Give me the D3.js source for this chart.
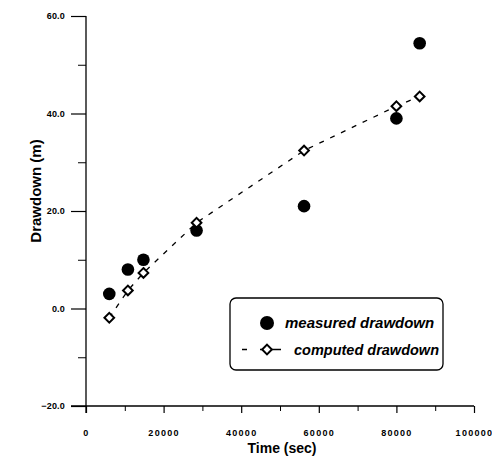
<!DOCTYPE html>
<html>
<head>
<meta charset="utf-8">
<script src="https://cdn.jsdelivr.net/npm/d3@7"></script>
<style>
  body { margin: 0; background: #fff; }
  svg text { font-family: "Liberation Sans", Arial, sans-serif; font-weight: bold; fill: #000; }
</style>
</head>
<body>
<div id="chart"></div>
<script>
// measured drawdown (filled circles)
let measuredTime = [6000, 10800, 14800, 28500, 56200, 80000, 86000];
let measuredDraw = [3.0, 8.0, 10.0, 16.0, 21.0, 39.0, 54.4];
// computed drawdown (open diamonds, dashed line)
let computedTime = [6000, 10800, 14800, 28500, 56200, 80000, 86000];
let computedDraw = [-1.9, 3.7, 7.3, 17.6, 32.4, 41.5, 43.5];

let xTicks = [0, 20000, 40000, 60000, 80000, 100000];
let yTicks = [-20, 0, 20, 40, 60];

var svgwidth = 492, svgheight = 457;
var svg = d3.select("#chart").append("svg")
  .attr("width", svgwidth)
  .attr("height", svgheight);

var margin = {top: 16, left: 86, right: 18, bottom: 51};
var chartW = svgwidth - margin.left - margin.right;
var chartH = svgheight - margin.top - margin.bottom;

var g = svg.append("g").attr("transform", `translate(${margin.left},${margin.top})`);

var x = d3.scaleLinear().domain([0, 100000]).range([0, chartW]);
var y = d3.scaleLinear().domain([-20, 60]).range([chartH, 0]);

// minor ticks
g.append("g").attr("transform", `translate(0,${chartH})`)
  .call(d3.axisBottom(x).tickValues(d3.range(10000, 100000, 20000)).tickSize(5).tickFormat(""))
  .call(a => a.select(".domain").remove());
g.append("g")
  .call(d3.axisLeft(y).tickValues(d3.range(-10, 60, 20)).tickSize(8).tickFormat(""))
  .call(a => a.select(".domain").remove());

// major axes
var xAxis = g.append("g").attr("transform", `translate(0,${chartH})`)
  .call(d3.axisBottom(x).tickValues(xTicks).tickSize(7).tickSizeOuter(0).tickPadding(17)
    .tickFormat(d3.format("d")));
var yAxis = g.append("g")
  .call(d3.axisLeft(y).tickValues(yTicks).tickSize(15).tickSizeOuter(0).tickPadding(6)
    .tickFormat(d3.format(".1f")));

xAxis.selectAll("text").attr("font-size", "9px").style("letter-spacing", "1.3px");
yAxis.selectAll("text").attr("font-size", "9px").style("letter-spacing", "0.2px");
[xAxis, yAxis].forEach(a => {
  a.selectAll("line").attr("stroke-width", 1.2);
  a.select(".domain").attr("stroke-width", 1.3);
});
// extend axis lines past the corner, as in the original plot
xAxis.select(".domain").attr("d", `M${-15},0H${chartW}`);
yAxis.select(".domain").attr("d", `M0,0V${chartH + 7}`);

// axis titles
g.append("text")
  .attr("x", chartW / 2 + 2).attr("y", chartH + 46.5)
  .attr("text-anchor", "middle").attr("font-size", "14px")
  .text("Time (sec)");
g.append("text")
  .attr("transform", `translate(${41 - margin.left},${191 - margin.top}) rotate(-90)`)
  .attr("text-anchor", "middle").attr("font-size", "15px")
  .text("Drawdown (m)");

// computed drawdown dashed line
var line = d3.line().x(d => x(d[0])).y(d => y(d[1]));
var computed = d3.zip(computedTime, computedDraw);
g.append("path").datum(computed)
  .attr("d", line)
  .attr("fill", "none").attr("stroke", "#000")
  .attr("stroke-width", 1.3).attr("stroke-dasharray", "5,7");

// measured points
g.selectAll("circle.meas")
  .data(d3.zip(measuredTime, measuredDraw))
  .enter().append("circle")
  .attr("class", "meas")
  .attr("cx", d => x(d[0])).attr("cy", d => y(d[1]))
  .attr("r", 6.3).attr("fill", "#000");

// computed diamonds
var diamond = d3.symbol().type(d3.symbolDiamond2).size(60);
g.selectAll("path.comp")
  .data(computed)
  .enter().append("path")
  .attr("class", "comp")
  .attr("d", diamond)
  .attr("transform", d => `translate(${x(d[0])},${y(d[1])})`)
  .attr("fill", "#fff").attr("stroke", "#000").attr("stroke-width", 2);

// legend
var lg = svg.append("g");
lg.append("rect")
  .attr("x", 230).attr("y", 298).attr("width", 213).attr("height", 72)
  .attr("rx", 6).attr("fill", "#fff").attr("stroke", "#000").attr("stroke-width", 1.3);
lg.append("circle").attr("cx", 267).attr("cy", 323).attr("r", 7).attr("fill", "#000");
lg.append("text").attr("x", 285).attr("y", 328)
  .attr("font-size", "15px").style("font-style", "italic")
  .text("measured drawdown");
lg.append("path").attr("d", "M242,349.5H247M260,349.5H281")
  .attr("stroke", "#000").attr("stroke-width", 1.3);
lg.append("path").attr("d", diamond).attr("transform", "translate(267,349.5)")
  .attr("fill", "#fff").attr("stroke", "#000").attr("stroke-width", 2);
lg.append("text").attr("x", 294).attr("y", 354.5)
  .attr("font-size", "14.5px").style("font-style", "italic")
  .text("computed drawdown");
</script>
</body>
</html>
